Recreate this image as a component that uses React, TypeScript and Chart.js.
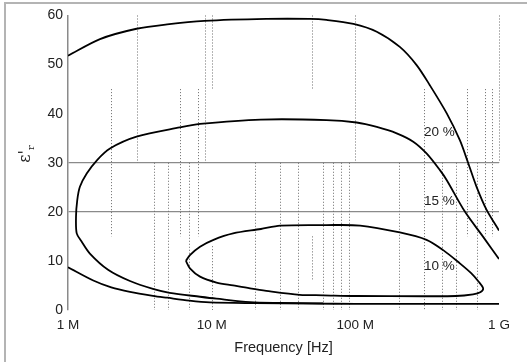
import React, { useEffect, useRef } from "react";
import { Chart, registerables } from "chart.js";

Chart.register(...registerables);

// Frequency in MHz, relative permittivity values
const freq20 = [1, 1.67, 3, 4.9, 8.9, 24, 48, 63, 97, 141, 204, 267, 330, 432, 534, 611, 698, 820, 1000];
const eps20 = [51.8, 55.2, 57.3, 58.2, 58.9, 59.3, 59.3, 59.1, 58.3, 56.7, 53.6, 49.9, 45.8, 40.1, 34.6, 29.9, 25.1, 20.4, 16.2];

const freq15 = [1000, 776, 580, 432, 388, 313, 253, 194, 141, 102, 63, 22, 8.3, 6.0, 3.0, 1.96, 1.6, 1.35, 1.21, 1.16, 1.137, 1.15, 1.24, 1.42, 1.9, 2.7, 3.9, 5.1, 8.3, 10.8, 18.5, 30, 60];
const eps15 = [10.4, 14.9, 20.0, 26.5, 28.5, 31.9, 34.3, 36.0, 37.3, 38.2, 38.7, 38.8, 37.9, 37.2, 35.3, 32.9, 30.6, 27.8, 25.1, 22.4, 19.0, 15.6, 14.0, 11.5, 8.2, 5.9, 4.3, 3.5, 2.7, 2.3, 1.6, 1.45, 1.35];

const freqLow = [1, 1.5, 2.0, 2.7, 3.9, 4.9, 7, 9.7, 20, 50, 100, 1000];
const epsLow = [8.7, 6.0, 4.6, 3.7, 2.9, 2.5, 1.9, 1.55, 1.4, 1.3, 1.25, 1.25];

const freq10 = [6.62, 7.06, 8.3, 10.3, 14.1, 22, 30, 63, 108, 204, 313, 409, 534, 640, 720, 776, 740, 660, 500, 300, 100, 60, 41, 24, 18.5, 14.1, 10.8, 8.3, 7.06, 6.62];
const eps10 = [10.0, 11.2, 12.9, 14.3, 15.6, 16.5, 17.2, 17.3, 17.2, 15.8, 14.3, 12.2, 9.5, 7.5, 5.8, 4.4, 3.6, 3.2, 2.85, 2.8, 2.85, 3.0, 3.1, 3.9, 4.4, 5.0, 5.6, 6.8, 8.5, 10.0];

const xTickValues = [1, 10, 100, 1000];
const xTickLabels = ["1 M", "10 M", "100 M", "1 G"];
const yTickValues = [0, 10, 20, 30, 40, 50, 60];
const solidGridValues = [20, 30];

// dotted vertical guide segments: [MHz, top value, bottom value]
const gridSegments: [number, number, number][] = [
  [2, 45, 15], [3, 60, 30], [4, 30, 0], [5, 30, 0], [6, 45, 15], [7, 30, 0], [8, 45, 15],
  [9, 60, 30], [10, 60, 45], [10, 13, 0], [20, 30, 0], [30, 30, 0], [40, 30, 0],
  [50, 60, 45], [50, 15, 6], [60, 30, 0], [70, 30, 0], [80, 30, 0], [90, 30, 0],
  [100, 60, 30], [200, 30, 0], [300, 45, 0], [400, 30, 0], [500, 30, 0], [600, 45, 15],
  [700, 30, 0], [800, 45, 15], [900, 45, 15], [1000, 60, 30],
];

const curveLabelTexts = ["20 %", "15 %", "10 %"];
const curveLabelFreq = [300, 300, 300];
const curveLabelEps = [36.3, 22.1, 9.0];

const FONT = "'Liberation Sans', Arial, sans-serif";

function toPoints(xs: number[], ys: number[]) {
  return xs.map((v, i) => ({ x: v, y: ys[i] }));
}

const decorPlugin = {
  id: "decor",
  beforeDatasetsDraw(chart: any) {
    const { ctx, scales } = chart;
    const x = scales.x;
    const y = scales.y;
    ctx.save();
    ctx.strokeStyle = "#6a6a6a";
    ctx.lineWidth = 1;
    ctx.setLineDash([1, 2]);
    for (const [f, t, b] of gridSegments) {
      const px = Math.round(x.getPixelForValue(f)) + 0.5;
      ctx.beginPath();
      ctx.moveTo(px, y.getPixelForValue(t));
      ctx.lineTo(px, y.getPixelForValue(b));
      ctx.stroke();
    }
    ctx.restore();
  },
  afterDraw(chart: any) {
    const { ctx, scales } = chart;
    const x = scales.x;
    const y = scales.y;
    ctx.save();
    // frame
    ctx.fillStyle = "#b4b4b4";
    ctx.fillRect(4, 2, 523, 2);
    ctx.fillRect(4, 2, 2, 360);
    // curve labels
    ctx.fillStyle = "#222";
    ctx.font = `13.5px ${FONT}`;
    ctx.textAlign = "left";
    ctx.textBaseline = "middle";
    curveLabelTexts.forEach((t, i) => {
      ctx.fillText(t, x.getPixelForValue(curveLabelFreq[i]), y.getPixelForValue(curveLabelEps[i]));
    });
    // y-axis title: ε'r with subscript r
    ctx.translate(26, 154);
    ctx.rotate(-Math.PI / 2);
    ctx.font = `16px 'DejaVu Serif', serif`;
    const main = "ε'";
    const w1 = ctx.measureText(main).width;
    ctx.font = `10px 'DejaVu Serif', serif`;
    const w2 = ctx.measureText("r").width;
    const start = -(w1 + w2) / 2;
    ctx.font = `16px 'DejaVu Serif', serif`;
    ctx.fillText(main, start, 0);
    ctx.font = `10px 'DejaVu Serif', serif`;
    ctx.fillText("r", start + w1, 5);
    ctx.restore();
  },
};

export default function App() {
  const ref = useRef<HTMLCanvasElement | null>(null);

  useEffect(() => {
    document.body.style.margin = "0";
    const canvas = ref.current;
    if (!canvas) return;
    const line = (xs: number[], ys: number[]) => ({
      data: toPoints(xs, ys),
      showLine: true,
      borderColor: "#000",
      borderWidth: 1.8,
      pointRadius: 0,
      tension: 0.3,
      fill: false,
    });
    const chart = new Chart(canvas, {
      type: "scatter",
      data: {
        datasets: [
          line(freq20, eps20),
          line(freq15, eps15),
          line(freqLow, epsLow),
          line(freq10, eps10),
        ],
      },
      options: {
        animation: false,
        responsive: false,
        devicePixelRatio: 1,
        layout: { padding: { left: 0, right: 28, top: 15.5, bottom: 0 } },
        plugins: { legend: { display: false }, tooltip: { enabled: false } },
        scales: {
          x: {
            type: "logarithmic",
            min: 1,
            max: 1000,
            afterBuildTicks: (s: any) => {
              s.ticks = xTickValues.map((v) => ({ value: v }));
            },
            afterFit: (s: any) => {
              s.height = 54;
            },
            grid: { display: false, drawTicks: false },
            border: { display: false },
            ticks: {
              autoSkip: false,
              maxRotation: 0,
              padding: 7,
              color: "#222",
              font: { family: FONT, size: 13.5 },
              callback: (v: any) => {
                const i = xTickValues.indexOf(Number(v));
                return i >= 0 ? xTickLabels[i] : "";
              },
            },
            title: {
              display: true,
              text: "Frequency [Hz]",
              color: "#222",
              font: { family: FONT, size: 14.5 },
              padding: { top: 0, bottom: 7.3 },
            },
          },
          y: {
            min: 0,
            max: 60,
            afterBuildTicks: (s: any) => {
              s.ticks = yTickValues.map((v) => ({ value: v }));
            },
            afterFit: (s: any) => {
              s.width = 68;
            },
            grid: {
              drawTicks: false,
              lineWidth: 1.2,
              color: (c: any) => (solidGridValues.includes(c.tick?.value) ? "#8a8a8a" : "rgba(0,0,0,0)"),
            },
            border: { display: true, color: "#8a8a8a", width: 1.5 },
            ticks: {
              padding: 5,
              color: "#222",
              font: { family: FONT, size: 14 },
            },
          },
        },
      },
      plugins: [decorPlugin],
    } as any);
    return () => chart.destroy();
  }, []);

  return (
    <div style={{ width: 527, height: 364 }}>
      <canvas ref={ref} width={527} height={364} style={{ width: 527, height: 364, display: "block" }} />
    </div>
  );
}
